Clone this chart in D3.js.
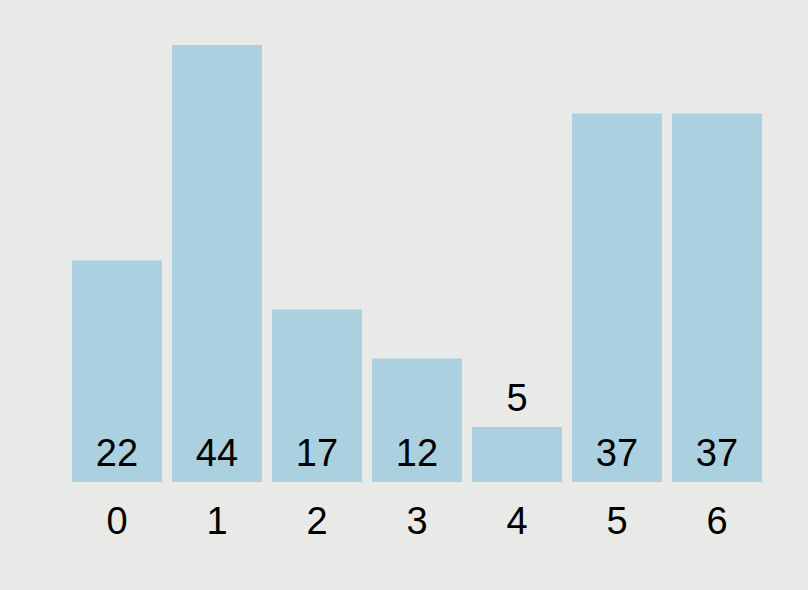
<!DOCTYPE html>
<html><head><meta charset="utf-8">
<script src="https://cdn.jsdelivr.net/npm/d3@7"></script>
<style>
html,body{margin:0;padding:0;background:#e9e9e8;}
svg{display:block;}
text{font-family:"Liberation Sans",Arial,sans-serif;fill:#000;}
</style></head>
<body><svg id="c" width="808" height="590"></svg>
<script>
const categories = ["0","1","2","3","4","5","6"];
const values = [22, 44, 17, 12, 5, 37, 37];

const W = 808, H = 590;
const svg = d3.select("#c");
svg.append("rect").attr("width", W).attr("height", H).attr("fill", "#e9e9e8");

const x = d3.scaleBand().domain(categories).range([67, 767]).paddingInner(0.1).paddingOuter(0.05);
const y = d3.scaleLinear().domain([0, 44]).range([476, 45]);
const base = 482;

const g = svg.append("g");
g.selectAll("rect.bar").data(values).join("rect")
  .attr("class", "bar")
  .attr("x", (d, i) => x(categories[i]))
  .attr("width", x.bandwidth())
  .attr("y", d => y(d))
  .attr("height", d => base - y(d))
  .attr("fill", "#abd0e0");

g.selectAll("text.val").data(values).join("text")
  .attr("class", "val")
  .attr("x", (d, i) => x(categories[i]) + x.bandwidth() / 2)
  .attr("y", d => (base - y(d) < 70) ? y(d) - 16 : base - 16)
  .attr("text-anchor", "middle")
  .style("font-size", "38px")
  .text(d => d);

const xAxis = d3.axisBottom(x).tickSize(0).tickPadding(0);
const ax = svg.append("g").attr("transform", `translate(0,${base})`).call(xAxis);
ax.select(".domain").remove();
ax.selectAll("text")
  .attr("dy", null)
  .attr("y", 52)
  .style("font-size", "38px")
  .style("font-family", "'Liberation Sans',Arial,sans-serif")
  .attr("fill", "#000");
</script></body></html>
